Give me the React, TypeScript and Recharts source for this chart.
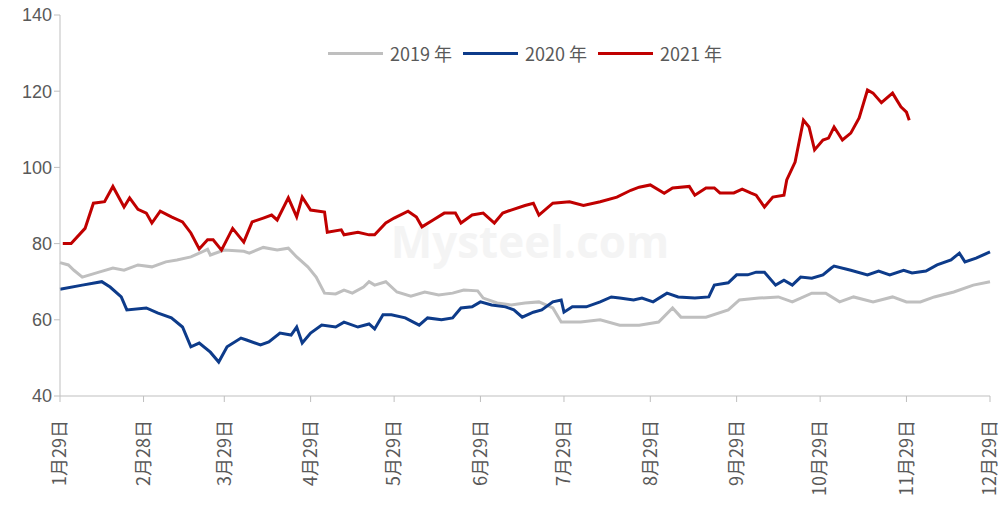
import React from 'react';
import { Customized, Line, LineChart, XAxis, YAxis } from 'recharts';

document.body.style.margin = '0';

// x positions are days counted from 1月29日
const tickDays = [0, 30, 59, 90, 120, 151, 181, 212, 243, 273, 304, 334];
const tickLabels = ['1月29日', '2月28日', '3月29日', '4月29日', '5月29日', '6月29日', '7月29日', '8月29日', '9月29日', '10月29日', '11月29日', '12月29日'];
const yTicks = [40, 60, 80, 100, 120, 140];

const days2019 = [0, 3, 5, 8, 14, 19, 23, 28, 33, 38, 42, 47, 51, 53, 54, 59, 66, 68, 73, 78, 82, 85, 89, 92, 95, 99, 102, 105, 109, 111, 113, 117, 121, 126, 131, 136, 141, 145, 150, 152, 157, 162, 167, 172, 177, 180, 187, 194, 201, 208, 215, 220, 223, 232, 240, 244, 251, 258, 263, 270, 275, 280, 285, 292, 299, 304, 309, 314, 321, 328, 334];
const values2019 = [75, 74.4, 73, 71.2, 72.5, 73.6, 73, 74.4, 73.9, 75.2, 75.7, 76.5, 77.8, 78.5, 77, 78.3, 78, 77.5, 79, 78.3, 78.8, 76.5, 73.9, 71.2, 67, 66.8, 67.8, 67, 68.6, 70, 69.1, 70, 67.3, 66.2, 67.3, 66.5, 67, 67.8, 67.6, 65.7, 64.4, 63.9, 64.4, 64.7, 63.1, 59.4, 59.4, 60, 58.6, 58.6, 59.4, 63.1, 60.7, 60.7, 62.6, 65.2, 65.7, 66, 64.7, 67, 67, 64.7, 66, 64.7, 66, 64.7, 64.7, 66, 67.3, 69.1, 70];

const days2020 = [0, 8, 15, 18, 22, 24, 31, 35, 40, 44, 47, 50, 54, 57, 60, 65, 67, 72, 75, 79, 83, 85, 87, 90, 94, 99, 102, 107, 111, 113, 116, 119, 124, 129, 132, 137, 141, 144, 148, 151, 155, 160, 163, 166, 170, 173, 177, 180, 181, 184, 189, 194, 198, 201, 206, 209, 213, 218, 222, 228, 233, 235, 240, 243, 247, 250, 253, 257, 260, 263, 266, 270, 274, 277, 278, 284, 290, 294, 298, 303, 306, 311, 315, 320, 323, 325, 329, 334];
const values2020 = [68, 69.1, 70, 68.6, 66, 62.6, 63.1, 61.8, 60.5, 58.1, 52.9, 53.9, 51.5, 48.9, 52.9, 55.2, 54.7, 53.4, 54.2, 56.5, 56, 58.1, 53.9, 56.5, 58.6, 58.1, 59.4, 58.1, 58.9, 57.6, 61.3, 61.3, 60.5, 58.6, 60.5, 60, 60.5, 63.1, 63.4, 64.7, 63.9, 63.4, 62.6, 60.7, 62, 62.6, 64.7, 65.2, 62, 63.4, 63.4, 64.7, 66, 65.7, 65.2, 65.7, 64.7, 67, 66, 65.7, 66, 69.1, 69.7, 71.8, 71.8, 72.5, 72.5, 69.1, 70.4, 69.1, 71.2, 70.9, 71.8, 73.6, 74.1, 73, 71.8, 72.8, 71.8, 73, 72.3, 72.8, 74.4, 75.7, 77.5, 75.2, 76.2, 77.8];

const days2021 = [1, 4, 9, 12, 16, 19, 23, 25, 28, 31, 33, 36, 40, 44, 47, 50, 53, 55, 58, 62, 66, 69, 73, 76, 78, 82, 85, 87, 90, 95, 96, 101, 102, 107, 111, 113, 117, 120, 125, 128, 130, 134, 138, 142, 144, 148, 152, 156, 159, 162, 167, 170, 172, 177, 183, 188, 194, 200, 205, 208, 212, 217, 220, 226, 228, 232, 235, 237, 242, 245, 248, 250, 253, 256, 260, 261, 264, 267, 269, 271, 274, 276, 278, 281, 284, 287, 290, 292, 295, 299, 302, 304, 305];
const values2021 = [80, 80, 84, 90.6, 91, 95, 89.6, 92, 89, 88, 85.4, 88.5, 87, 85.7, 82.8, 78.6, 81, 81, 78.3, 84, 80.4, 85.7, 86.7, 87.5, 86.2, 92, 87, 92.2, 88.8, 88.3, 83, 83.6, 82.3, 83, 82.3, 82.3, 85.4, 86.7, 88.5, 87, 84.4, 86.2, 88, 88, 85.4, 87.5, 88, 85.4, 88, 88.8, 90, 90.6, 87.5, 90.6, 91, 90, 91, 92.2, 94, 94.8, 95.4, 93.2, 94.6, 95, 92.7, 94.6, 94.6, 93.3, 93.3, 94.3, 93.3, 92.7, 89.6, 92.2, 92.7, 96.7, 101.4, 112.4, 110.6, 104.6, 107.2, 107.7, 110.6, 107.2, 109, 113, 120.3, 119.5, 117, 119.5, 115.9, 114.5, 112.4];

const toRows = (days: number[], values: number[]) => days.map((d, i) => ({ day: d, value: values[i] }));

const series = [
  { name: '2019 年', color: '#BFBFBF', data: toRows(days2019, values2019) },
  { name: '2020 年', color: '#0D3B8A', data: toRows(days2020, values2020) },
  { name: '2021 年', color: '#C00000', data: toRows(days2021, values2021) },
];

const axisColor = '#BFBFBF';
const textColor = '#595959';

function XTick({ x, y, payload, index }: any) {
  const label = tickLabels[tickDays.indexOf(payload.value)] ?? tickLabels[index];
  return (
    <g transform={`translate(${x},${y + 16})`}>
      <text transform="rotate(-90)" textAnchor="end" dy="0.35em" fill={textColor} fontSize={18} fontFamily="'Noto Sans CJK SC', sans-serif">
        {label}
      </text>
    </g>
  );
}

function LegendBox() {
  return (
    <div style={{ position: 'absolute', top: 40, left: 60, width: 930, display: 'flex', justifyContent: 'center', alignItems: 'center', gap: 11, fontFamily: "'Noto Sans CJK SC', sans-serif", fontSize: 18, color: textColor, lineHeight: '26px' }}>
      {series.map((s) => (
        <div key={s.name} style={{ display: 'flex', alignItems: 'center', gap: 7 }}>
          <span style={{ display: 'inline-block', width: 55, height: 3, background: s.color }} />
          <span>{s.name}</span>
        </div>
      ))}
    </div>
  );
}

function Watermark() {
  return (
    <text x={530} y={258} textAnchor="middle" fontSize={44} fontFamily="'Open Sans', sans-serif" fontWeight={700} fill="#F4F4F4">
      Mysteel.com
    </text>
  );
}

export default function App() {
  return (
    <div style={{ position: 'relative', width: 1006, height: 510, background: '#fff' }}>
      <LineChart width={1006} height={510} margin={{ top: 15, right: 16, left: 0, bottom: 0 }}>
        <Customized component={Watermark} />
        <XAxis
          type="number"
          dataKey="day"
          domain={[0, 334]}
          ticks={tickDays}
          interval={0}
          height={114}
          stroke={axisColor}
          tickLine={{ stroke: axisColor }}
          tickSize={6}
          tick={<XTick />}
          allowDuplicatedCategory={false}
        />
        <YAxis
          type="number"
          domain={[40, 140]}
          ticks={yTicks}
          width={60}
          stroke={axisColor}
          tickLine={{ stroke: axisColor }}
          tickSize={6}
          tick={{ fill: textColor, fontSize: 18, fontFamily: "'Liberation Sans Narrow', 'Liberation Sans', sans-serif" }}
        />
        {series.map((s) => (
          <Line
            key={s.name}
            data={s.data}
            dataKey="value"
            name={s.name}
            stroke={s.color}
            strokeWidth={3}
            dot={false}
            activeDot={false}
            isAnimationActive={false}
            type="linear"
          />
        ))}
      </LineChart>
      <LegendBox />
    </div>
  );
}
